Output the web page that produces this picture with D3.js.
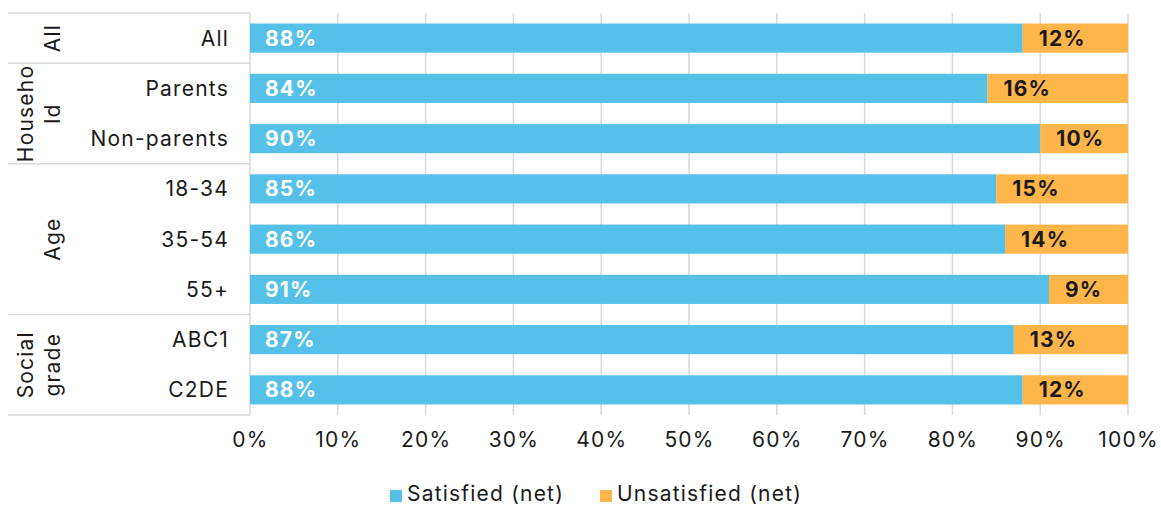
<!DOCTYPE html>
<html>
<head>
<meta charset="utf-8">
<script src="https://cdn.jsdelivr.net/npm/d3@7"></script>
<style>
  html, body { margin: 0; padding: 0; background: #fff; }
  svg { display: block; font-family: Inter, "Noto Sans", sans-serif; }
  svg text { letter-spacing: 1.2px; }
</style>
</head>
<body>
<svg id="chart" width="1161" height="507"></svg>
<script>
// Satisfaction by demographic group (stacked to 100%)
const categories = ["All", "Parents", "Non-parents", "18-34", "35-54", "55+", "ABC1", "C2DE"];
const satisfied = [88, 84, 90, 85, 86, 91, 87, 88];
const unsatisfied = [12, 16, 10, 15, 14, 9, 13, 12];
const groups = [
  { lines: ["All"], from: 0, to: 0 },
  { lines: ["Househo", "ld"], from: 1, to: 2 },
  { lines: ["Age"], from: 3, to: 5 },
  { lines: ["Social", "grade"], from: 6, to: 7 }
];
const seriesNames = ["Satisfied (net)", "Unsatisfied (net)"];
const tickValues = [0, 10, 20, 30, 40, 50, 60, 70, 80, 90, 100];

const colors = { sat: "#56C1E8", unsat: "#FEB54A", grid: "#d9d9d9", text: "#1a1a1a" };
const fontSize = 21;

const svg = d3.select("#chart");
const plot = { left: 250, right: 1128, top: 13, bottom: 415 };
const tableLeft = 8;

const x = d3.scaleLinear().domain([0, 100]).range([plot.left, plot.right]);
const y = d3.scaleBand().domain(categories).range([plot.top, plot.bottom]).paddingInner(0.42).paddingOuter(0.21);

// Vertical gridlines
svg.append("g")
  .selectAll("line")
  .data(tickValues.slice(1))
  .join("line")
  .attr("x1", d => x(d)).attr("x2", d => x(d))
  .attr("y1", plot.top).attr("y2", plot.bottom)
  .attr("stroke", colors.grid).attr("stroke-width", 1.5);

// Category table borders
const rowH = (plot.bottom - plot.top) / categories.length;
const tbl = svg.append("g").attr("stroke", colors.grid).attr("stroke-width", 1.5);
tbl.append("line").attr("x1", plot.left).attr("x2", plot.left).attr("y1", plot.top).attr("y2", plot.bottom);
const borders = [0].concat(groups.map(g => g.to + 1));
tbl.selectAll("line.h").data(borders).join("line").attr("class", "h")
  .attr("x1", tableLeft).attr("x2", plot.left)
  .attr("y1", d => plot.top + d * rowH).attr("y2", d => plot.top + d * rowH);

// Bars
const rows = categories.map((c, i) => ({ c, s: satisfied[i], u: unsatisfied[i] }));
const bars = svg.append("g");
bars.selectAll("rect.sat").data(rows).join("rect").attr("class", "sat")
  .attr("x", x(0)).attr("y", d => y(d.c))
  .attr("width", d => x(d.s) - x(0)).attr("height", y.bandwidth())
  .attr("fill", colors.sat);
bars.selectAll("rect.unsat").data(rows).join("rect").attr("class", "unsat")
  .attr("x", d => x(d.s)).attr("y", d => y(d.c))
  .attr("width", d => x(d.s + d.u) - x(d.s)).attr("height", y.bandwidth())
  .attr("fill", colors.unsat);

// Value labels
bars.selectAll("text.sat").data(rows).join("text").attr("class", "sat")
  .attr("x", x(0) + 15).attr("y", d => y(d.c) + y.bandwidth() / 2)
  .attr("dy", "0.36em").attr("fill", "#fff").attr("font-weight", 700).attr("font-size", fontSize)
  .text(d => d.s + "%");
bars.selectAll("text.unsat").data(rows).join("text").attr("class", "unsat")
  .attr("x", d => x(d.s) + 16).attr("y", d => y(d.c) + y.bandwidth() / 2)
  .attr("dy", "0.36em").attr("fill", colors.text).attr("font-weight", 700).attr("font-size", fontSize)
  .text(d => d.u + "%");

// Category labels
svg.append("g").selectAll("text").data(categories).join("text")
  .attr("x", 229).attr("y", d => y(d) + y.bandwidth() / 2)
  .attr("dy", "0.36em").attr("text-anchor", "end").attr("font-size", fontSize).attr("fill", colors.text)
  .text(d => d);

// Group labels (rotated)
const gl = svg.append("g");
groups.forEach(g => {
  const cy = plot.top + ((g.from + g.to + 1) / 2) * rowH;
  const n = g.lines.length;
  g.lines.forEach((line, i) => {
    const cx = 52 - (n - 1 - i) * 27;
    gl.append("text")
      .attr("transform", `translate(${cx},${cy}) rotate(-90)`)
      .attr("text-anchor", "middle").attr("dy", "0.36em")
      .attr("font-size", fontSize).attr("fill", colors.text)
      .text(line);
  });
});

// X axis
const xAxis = svg.append("g")
  .attr("transform", `translate(0,${plot.bottom})`)
  .call(d3.axisBottom(x).tickValues(tickValues).tickFormat(d => d + "%").tickSize(0).tickPadding(17));
xAxis.select(".domain").remove();
xAxis.selectAll("text").attr("font-size", fontSize).attr("fill", colors.text)
  .attr("font-family", "Inter, sans-serif");

// Legend
const legend = svg.append("g");
const legendItems = [
  { name: seriesNames[0], color: colors.sat, x: 390 },
  { name: seriesNames[1], color: colors.unsat, x: 600 }
];
legendItems.forEach(it => {
  legend.append("rect").attr("x", it.x).attr("y", 490).attr("width", 12).attr("height", 12).attr("fill", it.color);
  legend.append("text").attr("x", it.x + 17).attr("y", 501)
    .attr("font-size", fontSize).attr("fill", colors.text).text(it.name);
});
</script>
</body>
</html>
